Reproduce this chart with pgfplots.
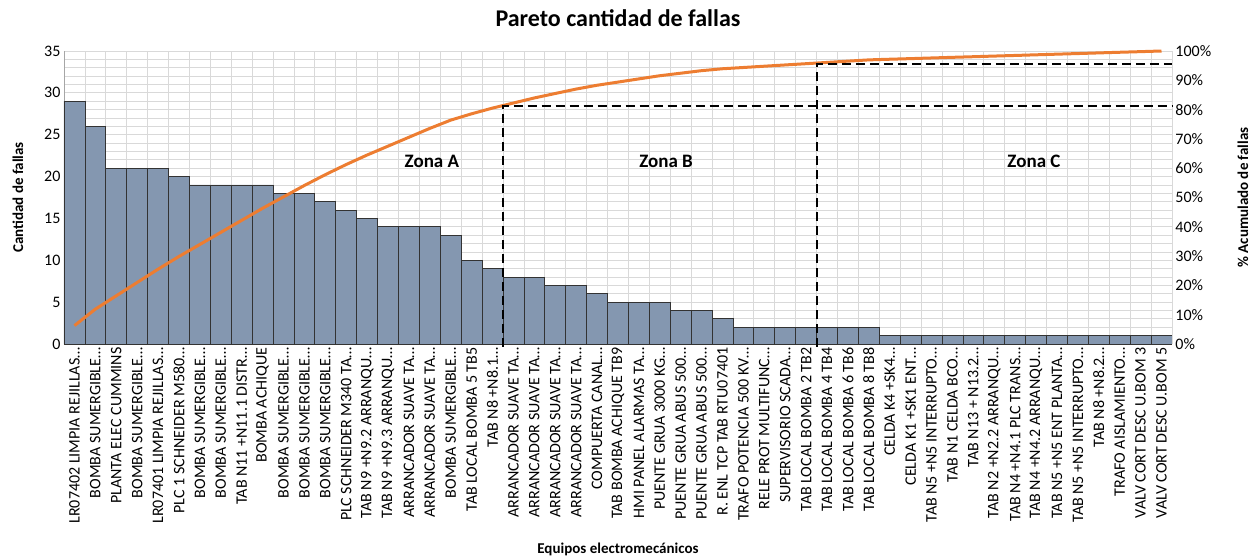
\documentclass[border=0pt]{standalone}
\usepackage{pgfplots}
\usepackage{pgfplotstable}
\pgfplotsset{compat=1.18}
\usepackage{fontspec}
\setmainfont{Carlito}
\definecolor{barfill}{RGB}{132,151,176}
\definecolor{cumline}{RGB}{237,125,49}
\definecolor{gridc}{RGB}{217,217,217}

\pgfplotstableread{
x fallas acum
1 29 6.28
2 26 11.90
3 21 16.45
4 21 21.00
5 21 25.54
6 20 29.87
7 19 33.98
8 19 38.10
9 19 42.21
10 19 46.32
11 18 50.22
12 18 54.11
13 17 57.79
14 16 61.26
15 15 64.50
16 14 67.53
17 14 70.56
18 14 73.59
19 13 76.41
20 10 78.57
21 9 80.52
22 8 82.25
23 8 83.98
24 7 85.50
25 7 87.01
26 6 88.31
27 5 89.39
28 5 90.48
29 5 91.56
30 4 92.42
31 4 93.29
32 3 93.94
33 2 94.37
34 2 94.81
35 2 95.24
36 2 95.67
37 2 96.10
38 2 96.54
39 2 96.97
40 1 97.19
41 1 97.40
42 1 97.62
43 1 97.84
44 1 98.05
45 1 98.27
46 1 98.48
47 1 98.70
48 1 98.92
49 1 99.13
50 1 99.35
51 1 99.57
52 1 99.78
53 1 100.00
}\datos

\begin{document}
\begin{tikzpicture}
\useasboundingbox (-64pt,-214pt) rectangle (1189pt,344pt);
\begin{axis}[
    at={(0pt,0pt)}, anchor=south west,
    scale only axis, width=1108pt, height=293pt,
    xmin=0.5, xmax=53.5, ymin=0, ymax=35,
    ybar, bar width=1,
    axis x line*=bottom, axis y line*=left,
    axis line style={draw=gray!70, -},
    xtick={1,2,...,53},
    xticklabels={
      {LR07402 LIMPIA REJILLAS\ldots},{BOMBA SUMERGIBLE\ldots},{PLANTA ELEC CUMMINS},{BOMBA SUMERGIBLE\ldots},
      {LR07401 LIMPIA REJILLAS\ldots},{PLC 1 SCHNEIDER M580\ldots},{BOMBA SUMERGIBLE\ldots},{BOMBA SUMERGIBLE\ldots},
      {TAB N11 +N11.1 DISTR\ldots},{BOMBA ACHIQUE},{BOMBA SUMERGIBLE\ldots},{BOMBA SUMERGIBLE\ldots},
      {BOMBA SUMERGIBLE\ldots},{PLC SCHNEIDER M340 TA\ldots},{TAB N9 +N9.2 ARRANQU\ldots},{TAB N9 +N9.3 ARRANQU\ldots},
      {ARRANCADOR SUAVE TA\ldots},{ARRANCADOR SUAVE TA\ldots},{BOMBA SUMERGIBLE\ldots},{TAB LOCAL BOMBA 5 TB5},
      {TAB N8 +N8.1\ldots},{ARRANCADOR SUAVE TA\ldots},{ARRANCADOR SUAVE TA\ldots},{ARRANCADOR SUAVE TA\ldots},
      {ARRANCADOR SUAVE TA\ldots},{COMPUERTA CANAL\ldots},{TAB BOMBA ACHIQUE TB9},{HMI PANEL ALARMAS TA\ldots},
      {PUENTE GRUA 3000 KG\ldots},{PUENTE GRUA ABUS 500\ldots},{PUENTE GRUA ABUS 500\ldots},{R. ENL TCP TAB RTU07401},
      {TRAFO POTENCIA 500 KV\ldots},{RELE PROT MULTIFUNC\ldots},{SUPERVISORIO SCADA\ldots},{TAB LOCAL BOMBA 2 TB2},
      {TAB LOCAL BOMBA 4 TB4},{TAB LOCAL BOMBA 6 TB6},{TAB LOCAL BOMBA 8 TB8},{CELDA K4 +SK4\ldots},
      {CELDA K1 +SK1 ENT\ldots},{TAB N5 +N5 INTERRUPTO\ldots},{TAB N1 CELDA BCO\ldots},{TAB N13 + N13.2\ldots},
      {TAB N2 +N2.2 ARRANQU\ldots},{TAB N4 +N4.1 PLC TRANS\ldots},{TAB N4 +N4.2 ARRANQU\ldots},{TAB N5 +N5 ENT PLANTA\ldots},
      {TAB N5 +N5 INTERRUPTO\ldots},{TAB N8 +N8.2\ldots},{TRAFO AISLAMIENTO\ldots},{VALV CORT DESC U.BOM 3},
      {VALV CORT DESC U.BOM 5}},
    x tick label style={rotate=90, anchor=east, font=\fontsize{16}{16}\selectfont},
    minor xtick={0.5,1.5,...,53.5},
    ytick={0,5,...,35},
    minor ytick={0,1,...,35},
    y tick label style={font=\fontsize{16}{16}\selectfont},
    /pgf/number format/assume math mode=true,
    xminorgrids, ymajorgrids, yminorgrids,
    grid style={draw=gridc, line width=0.8pt},
    minor grid style={draw=gridc, line width=0.8pt},
    major tick length=0pt, minor tick length=0pt,
    ylabel={\textbf{Cantidad de fallas}},
    ylabel style={at={(axis description cs:-0.0415,0.5)}, anchor=center, font=\fontsize{15}{15}\selectfont},
    xlabel={\textbf{Equipos electromecánicos}},
    xlabel style={at={(axis description cs:0.5,-0.70)}, anchor=center, font=\fontsize{15}{15}\selectfont},
    title={\textbf{Pareto cantidad de fallas}},
    title style={at={(axis description cs:0.5,1.09)}, anchor=center, font=\fontsize{24}{24}\selectfont},
]
\addplot[fill=barfill, draw=black!80, line width=0.8pt] table[x=x, y=fallas] {\datos};
\node[font=\bfseries\fontsize{19}{19}\selectfont] at (axis cs:18.1,21.8) {Zona A};
\node[font=\bfseries\fontsize{19}{19}\selectfont] at (axis cs:29.3,21.8) {Zona B};
\node[font=\bfseries\fontsize{19}{19}\selectfont] at (axis cs:46.9,21.8) {Zona C};
\end{axis}
\begin{axis}[
    at={(0pt,0pt)}, anchor=south west,
    scale only axis, width=1108pt, height=293pt,
    xmin=0.5, xmax=53.5, ymin=0, ymax=100,
    axis x line=none, axis y line*=right,
    axis line style={draw=none},
    ytick={0,10,...,100},
    yticklabel={\pgfmathprintnumber{\tick}\%},
    y tick label style={font=\fontsize{16}{16}\selectfont},
    /pgf/number format/assume math mode=true,
    major tick length=0pt,
    clip=false,
    ylabel={\textbf{\% Acumulado de fallas}},
    ylabel style={at={(axis description cs:1.064,0.5)}, anchor=center, font=\fontsize{15}{15}\selectfont},
]
\addplot[cumline, line width=3pt, no markers] table[x=x, y=acum] {\datos};
\addplot[black, line width=2pt, dash pattern=on 9pt off 5pt, no markers] coordinates {(21.5,-1) (21.5,81.4) (53.5,81.4)};
\addplot[black, line width=2pt, dash pattern=on 9pt off 5pt, no markers] coordinates {(36.5,-1) (36.5,95.5) (53.5,95.5)};
\end{axis}
\end{tikzpicture}
\end{document}
